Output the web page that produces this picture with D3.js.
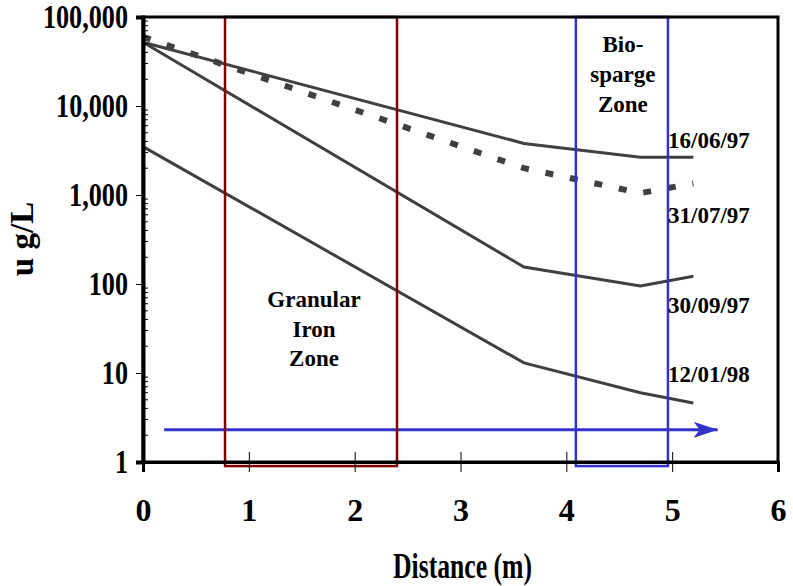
<!DOCTYPE html>
<html>
<head>
<meta charset="utf-8">
<script src="https://cdn.jsdelivr.net/npm/d3@7"></script>
<style>
  body { margin: 0; background: #fff; }
  text { font-family: "Liberation Serif", "Times New Roman", serif; font-weight: bold; fill: #000; }
</style>
</head>
<body>
<div class="canvas"></div>
<script>
// distances (m) where samples were taken
const distance = [0, 3.6, 4.7, 5.2];

// concentration series, u g/L
const jun97 = [52000, 3800, 2650, 2650];
const jul97 = [60000, 2000, 1050, 1350];
const sep97 = [52000, 155, 95, 122];
const jan98 = [3500, 13, 6, 4.6];

const seriesNames = ["16/06/97", "31/07/97", "30/09/97", "12/01/98"];

const yTicks = [1, 10, 100, 1000, 10000, 100000];
const xTicks = [0, 1, 2, 3, 4, 5, 6];

// zones (distance extents)
const granularZone = [0.775, 2.4];
const biospargeZone = [4.09, 4.96];
const zoneBottom = 0.9;

// flow arrow: [distance, value]
const arrowStart = [0.2, 2.3];
const arrowEnd = [5.43, 2.3];

const dimensions = { width: 793, height: 586 };
const margin = { top: 17, right: 15, bottom: 124, left: 143 };

const svg = d3
  .select(".canvas")
  .append("svg")
  .attr("width", dimensions.width)
  .attr("height", dimensions.height);

const x = d3
  .scaleLinear()
  .domain([0, 6])
  .range([margin.left, dimensions.width - margin.right]);

const y = d3
  .scaleLog()
  .domain([1, 100000])
  .range([dimensions.height - margin.bottom, margin.top]);

const line = d3
  .line()
  .x((d) => x(d[0]))
  .y((d) => y(d[1]));

// blue flow arrow (under everything)
svg
  .append("defs")
  .append("marker")
  .attr("id", "head")
  .attr("viewBox", "0 0 24 16")
  .attr("refX", 24)
  .attr("refY", 8)
  .attr("markerWidth", 24)
  .attr("markerHeight", 16)
  .attr("markerUnits", "userSpaceOnUse")
  .attr("orient", "auto")
  .append("path")
  .attr("d", "M0,0 L24,8 L0,16 L6,8 Z")
  .attr("fill", "#3333cc");

svg
  .append("line")
  .attr("x1", x(arrowStart[0]))
  .attr("y1", y(arrowStart[1]))
  .attr("x2", x(arrowEnd[0]))
  .attr("y2", y(arrowEnd[1]))
  .attr("stroke", "#3333cc")
  .attr("stroke-width", 3)
  .attr("marker-end", "url(#head)");

// series
const solid = [jun97, sep97, jan98];
solid.forEach((s) => {
  svg
    .append("path")
    .attr("d", line(distance.map((d, i) => [d, s[i]])))
    .attr("fill", "none")
    .attr("stroke", "#404040")
    .attr("stroke-width", 3);
});

svg
  .append("path")
  .attr("d", line(distance.map((d, i) => [d, jul97[i]])))
  .attr("fill", "none")
  .attr("stroke", "#404040")
  .attr("stroke-width", 6)
  .attr("stroke-dasharray", "8,17");

// zone boxes
const zoneBox = (zone, color) =>
  svg
    .append("rect")
    .attr("x", x(zone[0]))
    .attr("y", y(100000))
    .attr("width", x(zone[1]) - x(zone[0]))
    .attr("height", y(zoneBottom) - y(100000))
    .attr("fill", "none")
    .attr("stroke", color)
    .attr("stroke-width", 2.5);

zoneBox(granularZone, "#800000");
zoneBox(biospargeZone, "#3333cc");

// frame
svg
  .append("rect")
  .attr("x", x(0))
  .attr("y", y(100000))
  .attr("width", x(6) - x(0))
  .attr("height", y(1) - y(100000))
  .attr("fill", "none")
  .attr("stroke", "#000")
  .attr("stroke-width", 3);

// y axis
const yAxis = svg
  .append("g")
  .attr("transform", `translate(${x(0)},0)`)
  .call(
    d3.axisLeft(y).tickValues(yTicks).tickFormat(d3.format(",")).tickSize(7)
  );

yAxis.select(".domain").attr("stroke-width", 4);
yAxis
  .selectAll("text")
  .attr("font-size", 34)
  .attr("x", -15 / 0.77)
  .attr("transform", "scale(0.77,1)");

const minor = [];
yTicks.slice(0, -1).forEach((t) => {
  for (let k = 2; k < 10; k++) minor.push(t * k);
});

svg
  .append("g")
  .selectAll("line")
  .data(minor)
  .join("line")
  .attr("x1", x(0))
  .attr("x2", x(0) + 5)
  .attr("y1", (d) => y(d))
  .attr("y2", (d) => y(d))
  .attr("stroke", "#000");

// x axis
const xAxis = svg
  .append("g")
  .attr("transform", `translate(0,${y(1)})`)
  .call(
    d3
      .axisBottom(x)
      .tickValues(xTicks)
      .tickFormat(d3.format("d"))
      .tickSize(10)
      .tickPadding(26)
  );

xAxis.select(".domain").attr("stroke-width", 3);
xAxis.selectAll("text").attr("font-size", 32);
xAxis.selectAll(".tick").append("line").attr("y2", -10).attr("stroke", "#000");

// axis titles
svg
  .append("text")
  .attr("x", (x(0) + x(6)) / 2 + 2)
  .attr("y", 578)
  .attr("text-anchor", "middle")
  .attr("font-size", 36)
  .attr("textLength", 139)
  .attr("lengthAdjust", "spacingAndGlyphs")
  .text("Distance (m)");

svg
  .append("text")
  .attr("transform", "translate(33,239) rotate(-90)")
  .attr("text-anchor", "middle")
  .attr("font-size", 33)
  .text("u g/L");

// zone labels
const multiLine = (lines, cx, top, gap) => {
  lines.forEach((t, i) => {
    svg
      .append("text")
      .attr("x", cx)
      .attr("y", top + i * gap)
      .attr("text-anchor", "middle")
      .attr("font-size", 23)
      .text(t);
  });
};

multiLine(["Granular", "Iron", "Zone"], x(d3.mean(granularZone)) + 3, 307, 29.5);
multiLine(["Bio-", "sparge", "Zone"], x(d3.mean(biospargeZone)) + 1, 52, 30);

// series labels
const labelY = [148, 223, 313, 382];
seriesNames.forEach((name, i) => {
  svg
    .append("text")
    .attr("x", 668)
    .attr("y", labelY[i])
    .attr("font-size", 23)
    .text(name);
});
</script>
</body>
</html>
